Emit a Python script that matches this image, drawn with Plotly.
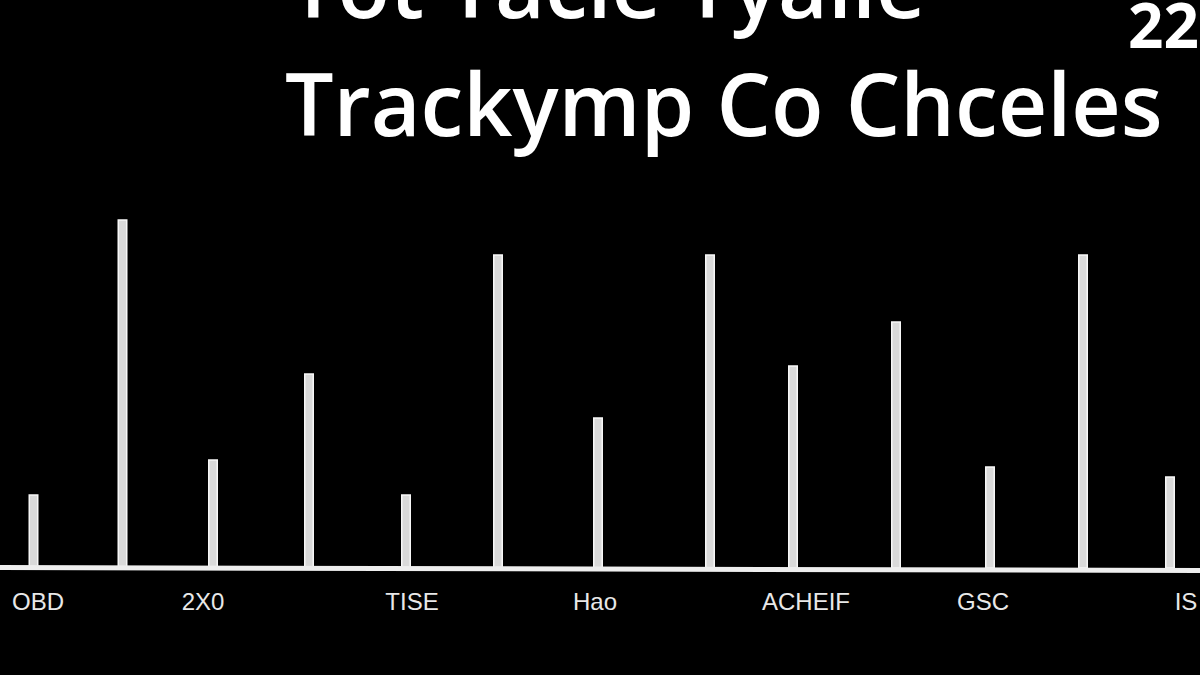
import plotly.graph_objects as go

# Data (arbitrary units; bar positions along a 0-1200 axis)
bar_positions = [33.5, 122.5, 213, 309, 406, 498, 598, 710, 793, 896, 990, 1083, 1170]
bar_values = [73, 348, 108, 194, 73, 313, 150, 313, 202, 246, 101, 313, 91]
tick_positions = [38, 203, 412, 595, 806, 983, 1186]
tick_labels = ["OBD", "2X0", "TISE", "Hao", "ACHEIF", "GSC", "IS"]
title_line1 = "Tot Tacle Tyalle"
title_line2 = "Trackymp Co Chceles"
corner_text = "22"

W, H = 1200, 675
plot_h = 568

fig = go.Figure()
fig.add_trace(go.Bar(
    x=bar_positions,
    y=bar_values,
    width=8.5,
    marker=dict(color="#d9d9d9", line=dict(color="#f7f7f7", width=1.5)),
    hoverinfo="x+y",
))

def py(p):
    return (plot_h - p) / plot_h

fig.update_layout(
    width=W, height=H,
    paper_bgcolor="#000000", plot_bgcolor="#000000",
    margin=dict(l=0, r=0, t=0, b=H - plot_h),
    showlegend=False,
    xaxis=dict(range=[0, 1200], showgrid=False, zeroline=False, showline=False,
               tickvals=tick_positions, ticktext=tick_labels,
               ticks="outside", ticklen=12, tickcolor="#000000",
               tickfont=dict(family="Liberation Sans", size=24, color="#e8e8e8")),
    yaxis=dict(range=[0, plot_h], showgrid=False, zeroline=False, showline=False,
               showticklabels=False),
    shapes=[dict(type="line", xref="paper", yref="paper",
                 x0=0, x1=1, y0=py(567.5), y1=py(570.5),
                 line=dict(color="#eeeeee", width=5))],
    annotations=[
        dict(text=title_line1, xref="paper", yref="paper", x=287 / W, y=py(45),
             xanchor="left", yanchor="bottom", showarrow=False,
             font=dict(family="Open Sans", size=86, color="#ffffff", weight=600)),
        dict(text=title_line2, xref="paper", yref="paper", x=283 / W, y=py(163),
             xanchor="left", yanchor="bottom", showarrow=False,
             font=dict(family="Open Sans", size=86, color="#ffffff", weight=600)),
        dict(text=corner_text, xref="paper", yref="paper", x=1126 / W, y=py(68),
             xanchor="left", yanchor="bottom", showarrow=False,
             font=dict(family="Open Sans", size=62, color="#ffffff", weight=700)),
    ],
)

fig.write_html(
    "out.html",
    config={"displayModeBar": False},
    post_script="document.body.style.margin='0';document.body.style.background='#000';",
)
